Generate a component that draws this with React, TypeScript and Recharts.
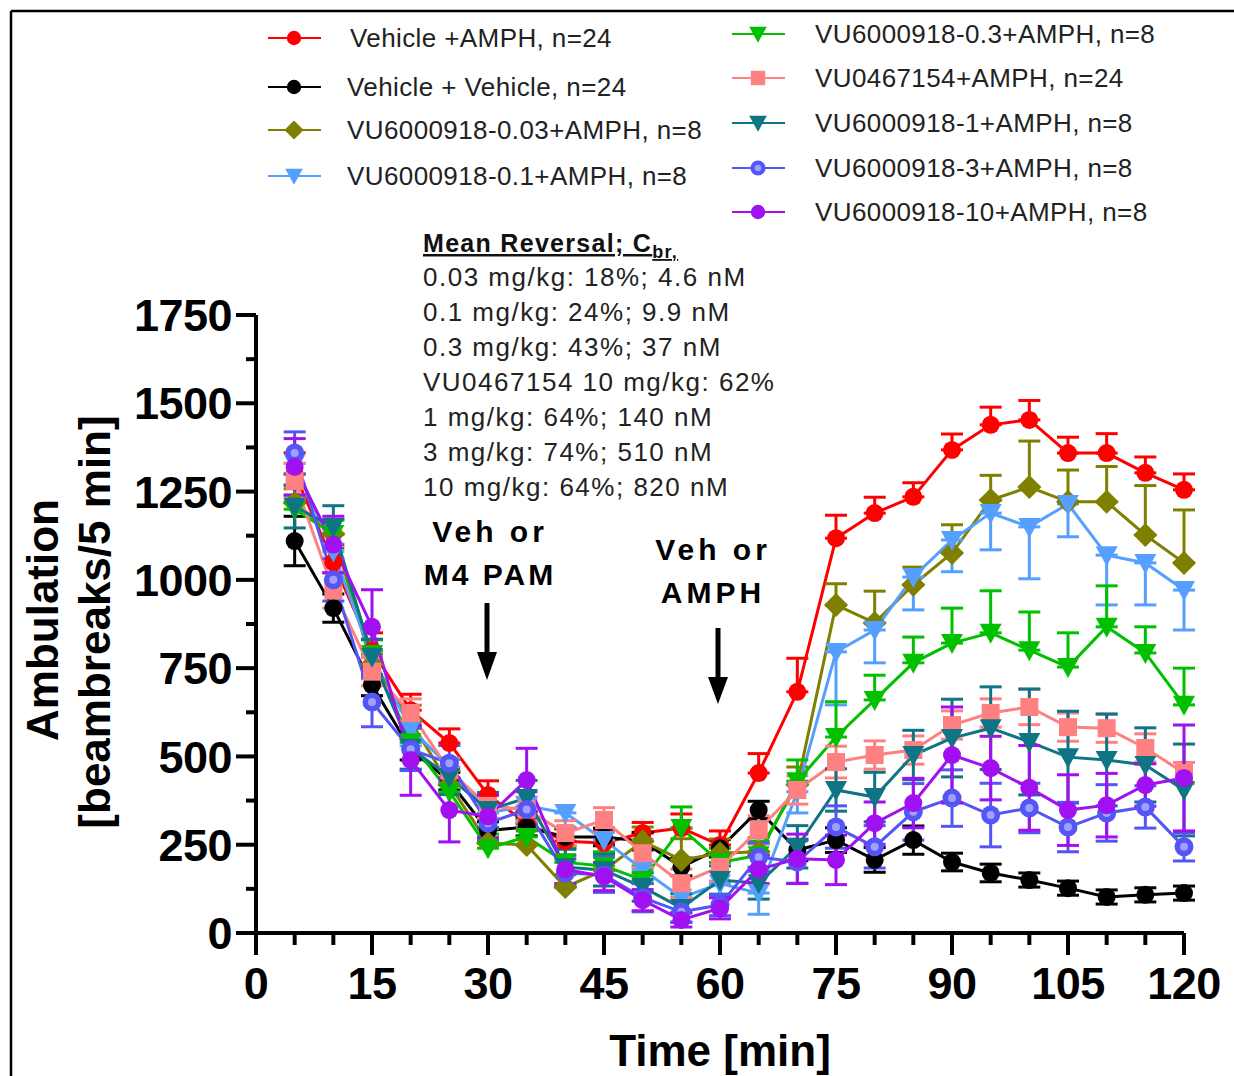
import React from "react";
import { LineChart, Line, XAxis, YAxis, ErrorBar } from "recharts";

// ── Data ──────────────────────────────────────────────────────────────────────

const TIMES = [5, 10, 15, 20, 25, 30, 35, 40, 45, 50, 55, 60, 65, 70, 75, 80, 85, 90, 95, 100, 105, 110, 115, 120];
const X_TICKS = [0, 5, 10, 15, 20, 25, 30, 35, 40, 45, 50, 55, 60, 65, 70, 75, 80, 85, 90, 95, 100, 105, 110, 115, 120];
const Y_TICKS = [0, 125, 250, 375, 500, 625, 750, 875, 1000, 1125, 1250, 1375, 1500, 1625, 1750];

const VEH_AMPH = [1300, 1050, 800, 631, 538, 391, 310, 260, 255, 283, 297, 249, 453, 683, 1118, 1189, 1235, 1368, 1439, 1453, 1359, 1359, 1303, 1255];
const VEH_AMPH_ERR = [60, 50, 50, 45, 40, 40, 35, 35, 35, 30, 40, 40, 55, 95, 65, 45, 40, 45, 50, 55, 45, 55, 45, 45];

const VEH_VEH = [1110, 920, 702, 520, 430, 290, 300, 272, 272, 260, 187, 240, 348, 235, 263, 207, 263, 201, 170, 150, 127, 102, 108, 113];
const VEH_VEH_ERR = [70, 40, 30, 30, 25, 25, 25, 25, 25, 25, 25, 25, 25, 30, 35, 35, 40, 25, 25, 20, 20, 20, 20, 20];

const D003 = [1218, 1130, 760, 600, 420, 255, 249, 130, 178, 260, 207, 226, 230, 420, 929, 878, 986, 1076, 1226, 1263, 1221, 1221, 1127, 1048];
const D003_ERR = [40, 40, 40, 45, 40, 40, 40, 35, 40, 40, 60, 40, 40, 50, 60, 90, 50, 80, 70, 130, 90, 100, 140, 150];

const D01 = [1330, 1080, 780, 580, 470, 340, 360, 340, 263, 180, 100, 140, 113, 400, 796, 858, 1008, 1113, 1189, 1150, 1215, 1070, 1048, 971];
const D01_ERR = [60, 60, 60, 50, 45, 40, 40, 40, 40, 40, 40, 40, 60, 60, 150, 93, 93, 90, 104, 147, 93, 141, 119, 113];

const D03 = [1200, 1130, 790, 540, 400, 240, 272, 200, 190, 150, 297, 200, 220, 430, 555, 660, 765, 821, 850, 801, 753, 867, 793, 646];
const D03_ERR = [40, 40, 40, 40, 40, 40, 40, 40, 40, 40, 60, 40, 40, 60, 100, 70, 73, 99, 119, 108, 97, 116, 74, 104];

const VU467 = [1280, 970, 740, 623, 460, 360, 350, 283, 320, 226, 141, 187, 292, 405, 484, 504, 518, 589, 623, 640, 583, 580, 524, 453];
const VU467_ERR = [50, 50, 40, 40, 35, 35, 35, 35, 35, 40, 40, 40, 40, 40, 45, 40, 40, 40, 40, 50, 40, 40, 40, 30];

const D1 = [1207, 1150, 782, 524, 442, 348, 382, 187, 178, 130, 71, 150, 141, 244, 405, 385, 504, 552, 580, 541, 498, 490, 476, 405];
const D1_ERR = [60, 60, 50, 60, 50, 50, 50, 50, 45, 40, 40, 40, 45, 60, 60, 70, 70, 110, 117, 150, 130, 130, 105, 130];

const D3 = [1359, 1000, 654, 520, 481, 311, 350, 170, 165, 100, 60, 79, 215, 201, 300, 244, 343, 382, 334, 354, 300, 340, 357, 244];
const D3_ERR = [60, 60, 70, 60, 50, 50, 50, 40, 50, 40, 30, 30, 40, 60, 60, 60, 80, 80, 90, 70, 70, 80, 60, 40];

const D10 = [1320, 1100, 867, 490, 348, 330, 433, 180, 160, 93, 37, 70, 180, 210, 207, 311, 368, 504, 467, 411, 348, 362, 419, 439];
const D10_ERR = [80, 80, 105, 100, 90, 60, 90, 40, 40, 30, 20, 30, 40, 70, 70, 60, 70, 136, 90, 120, 100, 90, 60, 150];

const ANNOTATION_LINES = [
  "0.03 mg/kg: 18%; 4.6 nM",
  "0.1 mg/kg: 24%; 9.9 nM",
  "0.3 mg/kg: 43%; 37 nM",
  "VU0467154 10 mg/kg: 62%",
  "1 mg/kg: 64%; 140 nM",
  "3 mg/kg: 74%; 510 nM",
  "10 mg/kg: 64%; 820 nM",
];

// ── Series config ─────────────────────────────────────────────────────────────

type Shape = "circle" | "ring" | "diamond" | "tri" | "square";

const SERIES = [
  { key: "vehAmph", name: "Vehicle +AMPH, n=24", color: "#FF0000", shape: "circle", values: VEH_AMPH, errors: VEH_AMPH_ERR, dir: "up", legend: [0, 38] },
  { key: "vehVeh", name: "Vehicle + Vehicle, n=24", color: "#000000", shape: "circle", values: VEH_VEH, errors: VEH_VEH_ERR, dir: "both", legend: [0, 87] },
  { key: "d003", name: "VU6000918-0.03+AMPH, n=8", color: "#7F7F00", shape: "diamond", values: D003, errors: D003_ERR, dir: "up", legend: [0, 130] },
  { key: "d01", name: "VU6000918-0.1+AMPH, n=8", color: "#55A0FF", shape: "tri", values: D01, errors: D01_ERR, dir: "down", legend: [0, 176] },
  { key: "d03", name: "VU6000918-0.3+AMPH, n=8", color: "#00C000", shape: "tri", values: D03, errors: D03_ERR, dir: "up", legend: [1, 34] },
  { key: "vu467", name: "VU0467154+AMPH, n=24", color: "#FF8080", shape: "square", values: VU467, errors: VU467_ERR, dir: "both", legend: [1, 78] },
  { key: "d1", name: "VU6000918-1+AMPH, n=8", color: "#0F7585", shape: "tri", values: D1, errors: D1_ERR, dir: "both", legend: [1, 123] },
  { key: "d3", name: "VU6000918-3+AMPH, n=8", color: "#5555F5", shape: "ring", values: D3, errors: D3_ERR, dir: "both", legend: [1, 168] },
  { key: "d10", name: "VU6000918-10+AMPH, n=8", color: "#A010F0", shape: "circle", values: D10, errors: D10_ERR, dir: "both", legend: [1, 212] },
] as const;

const chartData = TIMES.map((t, i) => {
  const row: Record<string, any> = { t };
  SERIES.forEach((s) => {
    const e = s.errors[i];
    row[s.key] = s.values[i];
    row[s.key + "Err"] = s.dir === "up" ? [0, e] : s.dir === "down" ? [e, 0] : [e, e];
  });
  return row;
});

const FONT = "'Liberation Sans', Arial, sans-serif";

// ── Markers ───────────────────────────────────────────────────────────────────

function Marker({ cx, cy, shape, color, s = 1 }: { cx: number; cy: number; shape: Shape; color: string; s?: number }) {
  if (cx == null || cy == null) return <g />;
  switch (shape) {
    case "ring":
      return (
        <g>
          <circle cx={cx} cy={cy} r={9.5 * s} fill={color} />
          <circle cx={cx} cy={cy} r={4 * s} fill="#9FA0FF" />
        </g>
      );
    case "diamond":
      return <polygon points={`${cx},${cy - 12 * s} ${cx + 12 * s},${cy} ${cx},${cy + 12 * s} ${cx - 12 * s},${cy}`} fill={color} />;
    case "tri":
      return <polygon points={`${cx - 11 * s},${cy - 9 * s} ${cx + 11 * s},${cy - 9 * s} ${cx},${cy + 11 * s}`} fill={color} />;
    case "square":
      return <rect x={cx - 9 * s} y={cy - 9 * s} width={18 * s} height={18 * s} fill={color} />;
    default:
      return <circle cx={cx} cy={cy} r={9 * s} fill={color} />;
  }
}

// ── Axis ticks ────────────────────────────────────────────────────────────────

function YTick({ x, y, payload }: any) {
  const major = payload.value % 250 === 0;
  return (
    <g>
      <line x1={x - (major ? 20 : 10)} x2={x} y1={y} y2={y} stroke="#000" strokeWidth={4} />
      {major && (
        <text x={x - 24} y={y} dy="0.36em" textAnchor="end" fontFamily={FONT} fontWeight="bold" fontSize={45} fill="#000" letterSpacing={-0.5}>
          {payload.value}
        </text>
      )}
    </g>
  );
}

function XTick({ x, y, payload }: any) {
  const major = payload.value % 15 === 0;
  return (
    <g>
      <line x1={x} x2={x} y1={y} y2={y + (major ? 22 : 12)} stroke="#000" strokeWidth={4} />
      {major && (
        <text x={x} y={y + 66} textAnchor="middle" fontFamily={FONT} fontWeight="bold" fontSize={45} fill="#000" letterSpacing={-0.5}>
          {payload.value}
        </text>
      )}
    </g>
  );
}

// ── App ───────────────────────────────────────────────────────────────────────

export default function App() {
  return (
    <div style={{ position: "absolute", left: 0, top: 0, width: 1234, height: 1076, background: "#fff", overflow: "hidden" }}>
      <LineChart
        width={1234}
        height={1076}
        data={chartData}
        margin={{ top: 315, right: 50, bottom: 83, left: 156 }}
      >
        <XAxis
          dataKey="t"
          type="number"
          domain={[0, 120]}
          ticks={X_TICKS}
          interval={0}
          height={60}
          tickSize={0}
          tickMargin={0}
          tickLine={false}
          axisLine={{ stroke: "#000", strokeWidth: 4 }}
          tick={<XTick />}
        />
        <YAxis
          type="number"
          domain={[0, 1750]}
          ticks={Y_TICKS}
          interval={0}
          width={100}
          tickSize={0}
          tickMargin={0}
          tickLine={false}
          axisLine={{ stroke: "#000", strokeWidth: 4 }}
          tick={<YTick />}
        />
        {SERIES.map((s) => (
          <Line
            key={s.key}
            dataKey={s.key}
            type="linear"
            stroke={s.color}
            strokeWidth={3}
            isAnimationActive={false}
            activeDot={false}
            dot={(p: any) => <Marker key={`${s.key}-${p.index}`} cx={p.cx} cy={p.cy} shape={s.shape as Shape} color={s.color} />}
          >
            <ErrorBar dataKey={s.key + "Err"} direction="y" width={11} stroke={s.color} strokeWidth={3} isAnimationActive={false} />
          </Line>
        ))}
      </LineChart>

      <svg width={1234} height={1076} style={{ position: "absolute", left: 0, top: 0, pointerEvents: "none" }}>
        {/* frame */}
        <line x1={11} y1={11} x2={11} y2={1076} stroke="#000" strokeWidth={2.5} />
        <line x1={11} y1={11} x2={1234} y2={11} stroke="#000" strokeWidth={2.5} />

        {/* legend */}
        {SERIES.map((s) => {
          const [col, y] = s.legend;
          const x0 = col === 0 ? 268 : 732;
          const tx = col === 0 ? (s.key === "vehAmph" ? 350 : 347) : 815;
          return (
            <g key={s.key}>
              <line x1={x0} x2={x0 + 53} y1={y} y2={y} stroke={s.color} strokeWidth={2} />
              <Marker cx={x0 + 26} cy={y} shape={s.shape as Shape} color={s.color} s={0.8} />
              <text x={tx} y={y} dy="0.36em" fontFamily={FONT} fontSize={26} letterSpacing={0.4} fill="#222">
                {s.name}
              </text>
            </g>
          );
        })}

        {/* annotation */}
        <text x={423} y={252} fontFamily={FONT} fontSize={25} fontWeight="bold" letterSpacing={1.3} fill="#111" textDecoration="underline">
          Mean Reversal; C<tspan fontSize={18} dy={6}>br,</tspan>
        </text>
        {ANNOTATION_LINES.map((l, i) => (
          <text key={l} x={423} y={286 + i * 35} fontFamily={FONT} fontSize={26} letterSpacing={1.5} fill="#222">
            {l}
          </text>
        ))}

        {/* dosing arrows */}
        <text x={490} y={542} textAnchor="middle" fontFamily={FONT} fontSize={30} fontWeight="bold" letterSpacing={4}>Veh or</text>
        <text x={490} y={585} textAnchor="middle" fontFamily={FONT} fontSize={30} fontWeight="bold" letterSpacing={3}>M4 PAM</text>
        <line x1={487} x2={487} y1={603} y2={660} stroke="#000" strokeWidth={5} />
        <polygon points="477,652 497,652 487,680" fill="#000" />

        <text x={713} y={560} textAnchor="middle" fontFamily={FONT} fontSize={30} fontWeight="bold" letterSpacing={4}>Veh or</text>
        <text x={713} y={603} textAnchor="middle" fontFamily={FONT} fontSize={30} fontWeight="bold" letterSpacing={4}>AMPH</text>
        <line x1={718} x2={718} y1={628} y2={685} stroke="#000" strokeWidth={5} />
        <polygon points="708,677 728,677 718,704" fill="#000" />

        {/* axis titles */}
        <text x={720} y={1066} textAnchor="middle" fontFamily={FONT} fontSize={44} fontWeight="bold">
          Time [min]
        </text>
        <text transform="translate(58,620) rotate(-90)" textAnchor="middle" fontFamily={FONT} fontSize={44} fontWeight="bold">
          Ambulation
        </text>
        <text transform="translate(110,622) rotate(-90)" textAnchor="middle" fontFamily={FONT} fontSize={44} fontWeight="bold">
          [beambreaks/5 min]
        </text>
      </svg>
    </div>
  );
}
